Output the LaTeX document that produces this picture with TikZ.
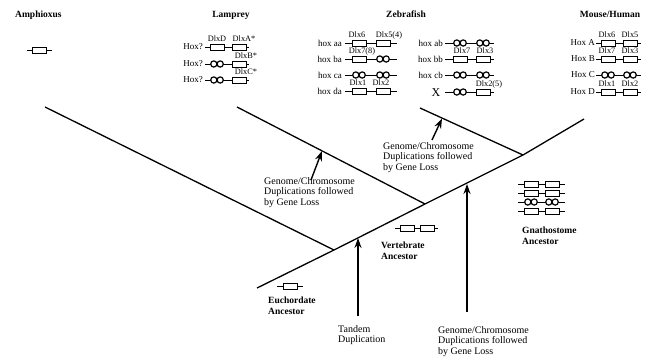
\documentclass[tikz,border=0pt]{standalone}
\usepackage{fontspec}
\setmainfont{Liberation Serif}
\usetikzlibrary{arrows.meta}
\newcommand\generow[8]{%
  \coordinate (#1s) at (#3,#2); \coordinate (#1e) at (#4,#2);
  \draw[locus] (#1s) -- (#1e);
  \pic (#1a) at (#5,#2) {#7};
  \pic (#1b) at (#6,#2) {#8};}
\begin{document}
\begin{tikzpicture}[x=1pt,y=-1pt,
  branch/.style={line width=1.3pt},
  evt/.style={line width=1.4pt,-{Stealth[length=10pt,width=7pt]}},
  locus/.style={line width=1pt},
  gene/.style={draw,line width=1pt,fill=white,minimum width=14pt,minimum height=6pt,inner sep=0pt},
  taxon/.style={font=\fontsize{9.5}{11}\selectfont\bfseries,inner sep=0pt},
  anc/.style={font=\fontsize{9.5}{10.5}\selectfont\bfseries,align=left,inner sep=0pt,anchor=north west},
  note/.style={font=\fontsize{10}{10.8}\selectfont,align=left,inner sep=0pt,anchor=north west},
  hox/.style={font=\fontsize{9}{10}\selectfont,inner sep=0pt,anchor=east},
  dlx/.style={font=\fontsize{8.3}{9}\selectfont,inner sep=0pt,anchor=base},
  plain/.pic={\node[gene] (-g) {};},
  lost/.pic={\filldraw[line width=1.2pt,fill=white] (-3.2,0) circle[radius=3.1] (3.2,0) circle[radius=3.1];}
]
\path[use as bounding box,fill=white] (0,0) rectangle (666,359);

% ---- tree ----
\coordinate (root) at (257,288);
\coordinate (jA) at (334,250);
\coordinate (jL) at (425,204);
\coordinate (jZ) at (523,155);
\coordinate (top) at (584,119);
\coordinate (amph) at (45,107);
\coordinate (lamp) at (237,107);
\coordinate (zeb) at (420,108);
\draw[branch] (root) -- (jA) -- (jL) -- (jZ) -- (top);
\draw[branch] (amph) -- (jA);
\draw[branch] (lamp) -- (jL);
\draw[branch] (zeb) -- (jZ);

% ---- events ----
\coordinate (e1s) at (311,180); \coordinate (e1t) at (322,151);
\coordinate (e2s) at (432,140); \coordinate (e2t) at (442,118.5);
\coordinate (e3s) at (358,316); \coordinate (e3t) at (358,238);
\coordinate (e4s) at (467,312); \coordinate (e4t) at (467,184);
\draw[evt] (e1s) -- (e1t);
\draw[evt] (e2s) -- (e2t);
\draw[evt] (e3s) -- (e3t);
\draw[evt] (e4s) -- (e4t);
\node[note] (n1) at (264,177) {Genome/Chromosome\\Duplications followed\\by Gene Loss};
\node[note] (n2) at (383,142) {Genome/Chromosome\\Duplications followed\\by Gene Loss};
\node[note] (n3) at (338,325) {Tandem\\Duplication};
\node[note] (n4) at (438,326) {Genome/Chromosome\\Duplications followed\\by Gene Loss};

% ---- titles ----
\node[taxon,anchor=base west] (tAm) at (15,17) {Amphioxus};
\node[taxon,anchor=base] (tLa) at (231,17) {Lamprey};
\node[taxon,anchor=base] (tZe) at (406,17) {Zebrafish};
\node[taxon,anchor=base] (tMo) at (610,17) {Mouse/Human};

% ---- amphioxus ----
\coordinate (amS) at (27,50); \coordinate (amE) at (52,50);
\draw[locus] (amS) -- (amE);
\pic (amB) at (39.5,50) {plain};

% ---- lamprey ----
\generow{la1}{47}{205}{249}{217}{239}{plain}{plain}
\generow{la2}{64}{205}{249}{217}{239}{lost}{plain}
\generow{la3}{80}{205}{249}{217}{239}{lost}{plain}
\node[hox] (hl1) at (203,47) {Hox?};
\node[hox] (hl2) at (203,64) {Hox?};
\node[hox] (hl3) at (203,80) {Hox?};
\node[dlx] (dLD) at (217,41.5) {DlxD};
\node[dlx] (dLA) at (244,41.5) {DlxA*};
\node[dlx] (dLB) at (246,58.5) {DlxB*};
\node[dlx] (dLC) at (246,74.5) {DlxC*};

% ---- zebrafish ----
\generow{za}{43}{345}{397}{359}{383}{plain}{plain}
\generow{zb}{59}{345}{397}{359}{383}{plain}{lost}
\generow{zc}{75}{345}{397}{359}{383}{lost}{lost}
\generow{zd}{91}{345}{397}{359}{383}{plain}{plain}
\node[hox] (hz1) at (342,43) {hox aa};
\node[hox] (hz2) at (342,59) {hox ba};
\node[hox] (hz3) at (342,75) {hox ca};
\node[hox] (hz4) at (342,91) {hox da};
\node[dlx] (dz6) at (357,37.5) {Dlx6};
\node[dlx] (dz5) at (389,37.5) {Dlx5(4)};
\node[dlx] (dz7) at (362,53.5) {Dlx7(8)};
\node[dlx] (dz1) at (358,85.5) {Dlx1};
\node[dlx] (dz2) at (381,85.5) {Dlx2};
\generow{zab}{43}{445}{494}{460}{483}{lost}{lost}
\generow{zbb}{59}{445}{494}{460}{483}{plain}{plain}
\generow{zcb}{75}{445}{494}{460}{483}{lost}{lost}
\generow{zx}{92}{445}{494}{460}{483}{lost}{plain}
\node[hox] (hz5) at (443,43) {hox ab};
\node[hox] (hz6) at (443,59) {hox bb};
\node[hox] (hz7) at (443,75) {hox cb};
\node[inner sep=0pt,font=\fontsize{12}{12}\selectfont] (zX) at (436,93) {X};
\node[dlx] (dz7b) at (462,53.5) {Dlx7};
\node[dlx] (dz3b) at (485,53.5) {Dlx3};
\node[dlx] (dz25) at (489,86.5) {Dlx2(5)};

% ---- mouse/human ----
\generow{ma}{43}{596}{641}{608}{630}{plain}{plain}
\generow{mb}{59}{596}{641}{608}{630}{plain}{plain}
\generow{mc}{75}{596}{641}{608}{630}{lost}{lost}
\generow{md}{92}{596}{641}{608}{630}{plain}{plain}
\node[hox] (hm1) at (595,43) {Hox A};
\node[hox] (hm2) at (595,59) {Hox B};
\node[hox] (hm3) at (595,75) {Hox C};
\node[hox] (hm4) at (595,92) {Hox D};
\node[dlx] (dm6) at (607,37.5) {Dlx6};
\node[dlx] (dm5) at (630,37.5) {Dlx5};
\node[dlx] (dm7) at (607,53.5) {Dlx7};
\node[dlx] (dm3) at (630,53.5) {Dlx3};
\node[dlx] (dm1) at (607,86.5) {Dlx1};
\node[dlx] (dm2) at (630,86.5) {Dlx2};

% ---- ancestors ----
\coordinate (euS) at (277,286); \coordinate (euE) at (303,286);
\draw[locus] (euS) -- (euE);
\pic (euB) at (290,286) {plain};
\node[anc] (nEu) at (268,297) {Euchordate\\Ancestor};

\generow{ve}{228}{395}{438}{407}{427}{plain}{plain}
\node[anc] (nVe) at (381,242) {Vertebrate\\Ancestor};

\generow{g1}{184}{518}{565}{531}{552}{plain}{plain}
\generow{g2}{193}{518}{565}{531}{552}{plain}{plain}
\generow{g3}{202}{518}{565}{531}{552}{lost}{lost}
\generow{g4}{211}{518}{565}{531}{552}{plain}{plain}
\node[anc] (nGn) at (522,227) {Gnathostome\\Ancestor};
\end{tikzpicture}
\end{document}
